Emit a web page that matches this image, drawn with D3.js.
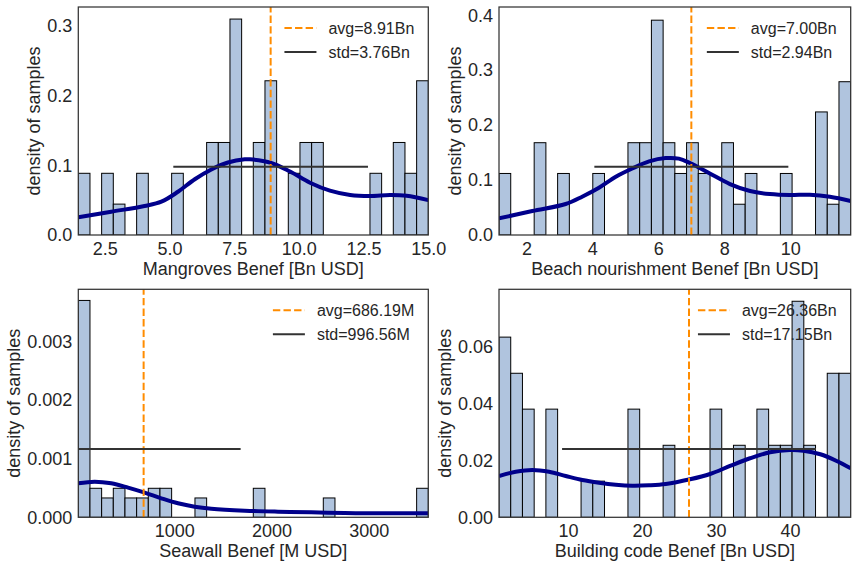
<!DOCTYPE html>
<html>
<head>
<meta charset="utf-8">
<script src="https://cdn.jsdelivr.net/npm/d3@7"></script>
<style>
  body { margin: 0; background: #fff; }
  text { font-family: "Liberation Sans", Arial, sans-serif; fill: #262626; }
</style>
</head>
<body>
<svg id="chart" width="856" height="568"></svg>
<script>
// histogram densities, 30 bins each
var mangrovesDensity = [0.0885, 0, 0.0885, 0.0443, 0, 0.0885, 0, 0, 0.0885, 0,
    0, 0.1327, 0.1327, 0.3097, 0, 0.1327, 0.2212, 0, 0.0885, 0.1327,
    0.1327, 0, 0, 0, 0, 0.0885, 0, 0.1327, 0.0885, 0.2212];
var beachDensity = [0.112, 0, 0, 0.168, 0, 0.112, 0, 0, 0.112, 0,
    0, 0.168, 0.168, 0.391, 0.168, 0.112, 0.168, 0.112, 0, 0.168,
    0.056, 0.112, 0, 0, 0.112, 0, 0, 0.224, 0.056, 0.279];
var seawallDensity = [0.00370, 0.000495, 0.00033, 0.000495, 0.00033, 0.00033, 0.000495, 0.000495, 0, 0,
    0.00033, 0, 0, 0, 0, 0.000495, 0, 0, 0, 0,
    0, 0.00033, 0, 0, 0, 0, 0, 0, 0, 0.000495];
var buildingDensity = [0.0633, 0.0506, 0.038, 0, 0.038, 0, 0, 0.0127, 0.0127, 0,
    0, 0.038, 0, 0, 0.0253, 0, 0, 0, 0.038, 0,
    0.0253, 0, 0.038, 0.0253, 0.0253, 0.0759, 0.0253, 0, 0.0506, 0.0506];

// histogram ranges (min, max of samples)
var mangrovesRange = [1.48, 15.0];
var beachRange = [1.17, 11.83];
var seawallRange = [15, 3611];
var buildingRange = [0.69, 48.2];

// kde curves [x, density]
var mangrovesKde = [[1.48, 0.0254], [2.75, 0.0334], [4.04, 0.0416], [4.69, 0.0478], [5.33, 0.062],
    [5.98, 0.080], [6.62, 0.094], [7.26, 0.104], [7.91, 0.1086], [8.11, 0.1086], [8.88, 0.104],
    [9.66, 0.091], [10.43, 0.075], [11.20, 0.0636], [11.98, 0.0574], [12.75, 0.056],
    [13.52, 0.0574], [14.16, 0.0564], [15.0, 0.050]];
var beachKde = [[1.17, 0.0303], [2.18, 0.0436], [3.19, 0.0564], [3.69, 0.0697], [4.20, 0.086],
    [4.71, 0.106], [5.21, 0.121], [5.72, 0.134], [6.22, 0.140], [6.62, 0.139], [6.96, 0.131],
    [7.56, 0.112], [8.17, 0.0927], [8.78, 0.080], [9.38, 0.0745], [9.99, 0.0727],
    [10.59, 0.0733], [11.20, 0.0697], [11.83, 0.0618]];
var seawallKde = [[15, 0.00058], [183, 0.000608], [354, 0.00058], [526, 0.000506], [697, 0.00042],
    [868, 0.000324], [1039, 0.000239], [1211, 0.000181], [1381, 0.000147], [1725, 0.000113],
    [2067, 0.0000956], [2409, 0.000085], [2752, 0.000073], [3094, 0.000068], [3611, 0.000068]];
var buildingKde = [[0.69, 0.01452], [2.95, 0.0160], [5.19, 0.01663], [7.45, 0.0160], [9.70, 0.01452],
    [11.95, 0.01311], [14.20, 0.01216], [16.46, 0.01146], [18.70, 0.01111], [20.96, 0.01125],
    [23.22, 0.0117], [26.5, 0.01336], [29.2, 0.01522], [31.9, 0.01803], [34.6, 0.02074],
    [37.3, 0.02285], [40.0, 0.02366], [41.8, 0.02341], [44.1, 0.02214], [46.3, 0.01979],
    [48.2, 0.01722]];

// mean, std, height of the std bar, y max
var avgs = [8.91, 7.00, 686.19, 26.36];
var stds = [3.76, 2.94, 996.56, 17.15];
var stdHeights = [0.098, 0.124, 0.001166, 0.024];
var yMaxes = [0.327, 0.415, 0.00389, 0.0801];
var units = ["Bn", "Bn", "M", "Bn"];
var xLabels = ["Mangroves Benef [Bn USD]", "Beach nourishment Benef [Bn USD]",
    "Seawall Benef [M USD]", "Building code Benef [Bn USD]"];

var xTicks = [[2.5, 5, 7.5, 10, 12.5, 15], [2, 4, 6, 8, 10], [1000, 2000, 3000], [10, 20, 30, 40]];
var yTicks = [[0, 0.1, 0.2, 0.3], [0, 0.1, 0.2, 0.3, 0.4], [0, 0.001, 0.002, 0.003], [0, 0.02, 0.04, 0.06]];
var xFormats = [".1f", "d", "d", "d"];
var yFormats = [".1f", ".1f", ".3f", ".2f"];

var densities = [mangrovesDensity, beachDensity, seawallDensity, buildingDensity];
var ranges = [mangrovesRange, beachRange, seawallRange, buildingRange];
var kdes = [mangrovesKde, beachKde, seawallKde, buildingKde];

// plot boxes [left, top, right, bottom]
var boxes = [[78.3, 7, 428.3, 235], [499, 7, 850.7, 235], [78.3, 289.3, 428.3, 517.3], [499, 289.3, 850.7, 517.3]];

var svg = d3.select("#chart");

densities.forEach(function (density, i) {
    var b = boxes[i];
    var range = ranges[i];
    var x = d3.scaleLinear().domain(range).range([b[0], b[2]]);
    var y = d3.scaleLinear().domain([0, yMaxes[i]]).range([b[3], b[1]]);
    var g = svg.append("g");

    g.append("clipPath").attr("id", "clip" + i)
        .append("rect")
        .attr("x", b[0]).attr("y", b[1])
        .attr("width", b[2] - b[0]).attr("height", b[3] - b[1]);

    var plot = g.append("g").attr("clip-path", "url(#clip" + i + ")");
    var bw = (range[1] - range[0]) / density.length;

    // bars
    plot.selectAll("rect.bar")
        .data(density.map((d, k) => ({ k: k, d: d })).filter((d) => d.d > 0))
        .enter()
        .append("rect")
        .attr("class", "bar")
        .attr("x", (d) => x(range[0] + d.k * bw))
        .attr("width", (d) => x(range[0] + (d.k + 1) * bw) - x(range[0] + d.k * bw))
        .attr("y", (d) => y(d.d))
        .attr("height", (d) => y(0) - y(d.d))
        .attr("fill", "#b0c4de")
        .attr("stroke", "#000")
        .attr("stroke-width", 1);

    // kde
    plot.append("path")
        .datum(kdes[i])
        .attr("d", d3.line().x((d) => x(d[0])).y((d) => y(d[1])).curve(d3.curveCatmullRom))
        .attr("fill", "none")
        .attr("stroke", "#00008b")
        .attr("stroke-width", 4);

    // mean line
    plot.append("line")
        .attr("x1", x(avgs[i])).attr("x2", x(avgs[i]))
        .attr("y1", y(0)).attr("y2", b[1])
        .attr("stroke", "#ff8c00")
        .attr("stroke-width", 2)
        .attr("stroke-dasharray", "7.4,3.2");

    // std bar
    plot.append("line")
        .attr("x1", x(avgs[i] - stds[i])).attr("x2", x(avgs[i] + stds[i]))
        .attr("y1", y(stdHeights[i])).attr("y2", y(stdHeights[i]))
        .attr("stroke", "#333")
        .attr("stroke-width", 2);

    // axes
    var xAxis = g.append("g")
        .attr("transform", `translate(0,${b[3]})`)
        .call(d3.axisBottom(x).tickValues(xTicks[i]).tickFormat(d3.format(xFormats[i])).tickSize(0).tickPadding(7));
    var yAxis = g.append("g")
        .attr("transform", `translate(${b[0]},0)`)
        .call(d3.axisLeft(y).tickValues(yTicks[i]).tickFormat(d3.format(yFormats[i])).tickSize(0).tickPadding(6));
    [xAxis, yAxis].forEach(function (a) {
        a.attr("font-size", 18).attr("font-family", null);
        a.select(".domain").remove();
    });

    // frame
    g.append("rect")
        .attr("x", b[0]).attr("y", b[1])
        .attr("width", b[2] - b[0]).attr("height", b[3] - b[1])
        .attr("fill", "none")
        .attr("stroke", "#333")
        .attr("stroke-width", 1.25);

    // axis labels
    g.append("text")
        .attr("x", (b[0] + b[2]) / 2)
        .attr("y", b[3] + 40)
        .attr("text-anchor", "middle")
        .attr("font-size", 18)
        .text(xLabels[i]);

    // bbox is in the axis group's own coordinates
    var bb = yAxis.node().getBBox();
    g.append("text")
        .attr("transform", `translate(${b[0] + bb.x - 13.5},${(b[1] + b[3]) / 2}) rotate(-90)`)
        .attr("text-anchor", "middle")
        .attr("dy", "0.35em")
        .attr("font-size", 18)
        .text("density of samples");

    // legend
    var entries = [
        { label: `avg=${avgs[i].toFixed(2)}${units[i]}`, color: "#ff8c00", dash: "7.4,3.2" },
        { label: `std=${stds[i].toFixed(2)}${units[i]}`, color: "#333", dash: null }
    ];
    var leg = g.append("g");
    var texts = leg.selectAll("text")
        .data(entries)
        .enter()
        .append("text")
        .attr("y", (d, k) => b[1] + 21 + k * 24)
        .attr("dy", "0.35em")
        .attr("font-size", 16)
        .text((d) => d.label);
    var maxW = d3.max(texts.nodes(), (n) => n.getComputedTextLength());
    var tx = b[2] - 14 - maxW;
    texts.attr("x", tx);
    leg.selectAll("line")
        .data(entries)
        .enter()
        .append("line")
        .attr("x1", tx - 44).attr("x2", tx - 12)
        .attr("y1", (d, k) => b[1] + 21 + k * 24)
        .attr("y2", (d, k) => b[1] + 21 + k * 24)
        .attr("stroke", (d) => d.color)
        .attr("stroke-width", 2)
        .attr("stroke-dasharray", (d) => d.dash);
});
</script>
</body>
</html>
